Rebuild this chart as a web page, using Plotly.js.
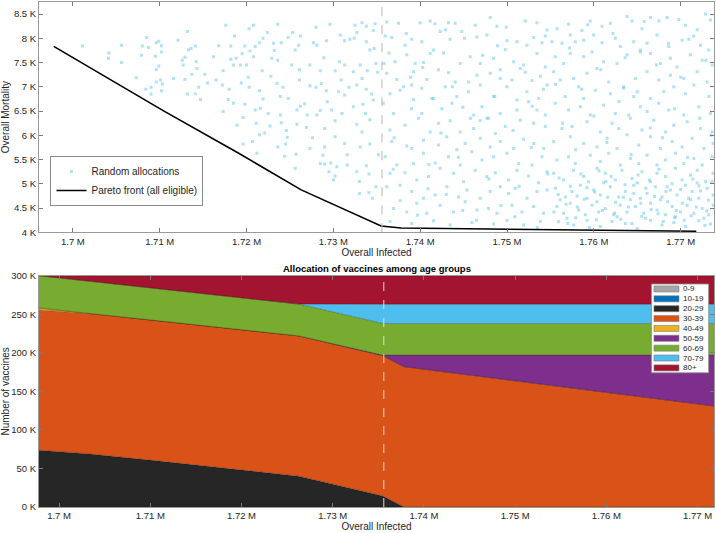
<!DOCTYPE html>
<html>
<head>
<meta charset="utf-8">
<script src="https://cdn.plot.ly/plotly-3.0.1.min.js"></script>
<style>html,body{margin:0;padding:0;background:#fff;}#chart{width:716px;height:533px;}</style>
</head>
<body>
<div id="chart"></div>
<script>
// ---------- DATA (infected in thousands, mortality in thousands, vaccines in thousands) ----------
const randInfK = [
1701.1,1704.15,1704.1,1705.6,1705.6,1707.3,1707.9,1708.0,1708.5,1708.7,1708.4,1709.0,1709.0,1709.5,1709.6,1709.6,1709.6,1709.9,1709.9,1710.1,1710.2,1710.2,1710.2,1710.3,1711.6,1712.1,1712.6,1712.7,1712.9,1712.9,1713.2,1713.2,1713.3,1713.6,1713.7,1714.1,1714.2,1714.3,1714.1,1714.5,1714.7,1715.2,1715.5,
1717.6,1720.3,1720.8,1723.6,1728.0,1729.6,1732.5,1733.3,1733.8,1734.6,1722.4,1721.5,1718.2,1719.8,1720.4,1721.0,1721.9,1723.1,1724.0,1724.8,1726.2,1726.0,1725.6,1727.7,1728.1,1729.2,1730.8,1731.3,1731.9,1732.7,1733.8,1734.2,1734.7,
1716.2,1717.3,1718.2,1718.5,1718.8,1719.5,1720.0,1720.8,1721.8,1722.9,1723.6,1725.2,1726.1,1727.3,1728.5,1730.2,1730.7,1731.3,1732.3,1733.1,1733.9,1734.9,
1716.5,1717.2,1718.0,1719.4,1720.3,1721.5,1722.8,1723.5,1724.2,1726.1,1727.3,1728.0,1728.6,1729.2,1730.9,1731.8,1732.7,1733.3,1733.8,1734.4,
1717.9,1718.5,1719.8,1721.0,1721.6,1723.9,1724.8,1723.9,1725.8,1726.2,1727.0,1728.5,1729.3,1729.8,1731.3,1732.3,1733.4,1734.6,
1717.3,1718.9,1719.6,1721.1,1722.7,1724.0,1725.8,1726.9,1728.1,1729.0,1730.2,1731.0,1732.7,1733.3,1734.2,
1721.5,1722.1,1719.6,1720.7,1723.6,1724.7,1724.5,1727.3,1729.0,1730.2,1731.3,1733.1,1734.2,
1721.2,1724.4,1725.7,1728.8,1729.7,1730.4,1729.0,1730.2,1730.0,1731.6,1732.7,1733.8,1734.1,1733.0,1734.1,1734.9,1725.6,1728.5,
1716.8,1718.6,1720.2,1721.9,1723.2,1724.6,1725.3,1726.7,1727.6,1728.9,1729.5,1730.6,1731.6,1732.4,1733.0,1733.7,1734.5,1735.1,1735.2,1734.8,1722.5,1719.3,
1736.15,1737.50,1739.99,1741.15,1743.26,1744.03,1746.34,1748.07,1748.84,1749.91,1752.11,1753.45,1754.61,
1735.96,1736.73,1738.26,1739.03,1740.19,1741.53,1742.30,1743.45,1744.80,1746.53,1747.68,1749.80,1751.14,1752.30,1753.07,1754.03,
1735.84,1737.11,1738.46,1739.42,1740.38,1741.15,1742.69,1744.61,1745.76,1746.92,1748.45,1749.22,1750.76,1751.91,1753.45,1754.41,
1736.15,1737.30,1738.07,1739.23,1740.76,1742.11,1743.26,1744.03,1745.57,1746.53,1748.07,1749.22,1750.57,1751.53,1752.87,1753.84,
1736.53,1737.69,1739.03,1740.19,1741.34,1742.88,1744.22,1745.57,1746.92,1748.45,1749.99,1751.14,1752.30,1753.64,1754.61,
1735.76,1736.92,1739.23,1740.19,1741.53,1742.49,1743.65,1744.92,1746.15,1747.11,1747.88,1749.22,1751.14,1752.49,1753.45,1754.41,
1736.53,1738.26,1739.80,1741.15,1742.11,1743.45,1744.61,1746.15,1747.68,1748.65,1749.80,1751.53,1753.07,1754.41,
1736.73,1738.46,1739.03,1740.38,1742.11,1743.07,1744.22,1745.18,1746.92,1748.07,1749.22,1750.76,1751.91,1753.07,1754.22,
1735.96,1737.30,1739.23,1740.38,1741.72,1743.26,1744.61,1745.95,1747.11,1748.45,1749.99,1751.34,1752.87,1754.03,
1736.53,1738.26,1739.61,1740.96,1742.30,1743.84,1744.99,1746.34,1747.68,1748.65,1750.18,1751.14,1752.49,1753.64,1754.61,
1736.15,1737.69,1739.03,1740.38,1741.72,1743.07,1744.42,1745.38,1746.92,1748.07,1749.22,1750.18,1750.95,1752.30,1753.45,1754.61,
1736.92,1738.46,1739.61,1740.76,1742.30,1743.84,1745.18,1746.53,1747.88,1748.84,1750.57,1751.72,1753.07,1754.22,
1736.53,1739.03,1741.53,1743.45,1745.95,1748.45,1749.99,1751.91,1753.84,
1736.4,1737.0,1737.7,1738.4,1739.0,1739.7,1740.3,1741.0,1741.7,1742.4,1743.0,1743.7,1744.4,1745.1,1745.8,1746.5,1747.2,1747.9,1748.6,1749.3,1750.0,1750.7,1751.4,1752.1,1752.8,1753.5,1754.2,1754.7,1736.9,1738.9,1740.9,1742.9,1744.9,1746.9,1748.9,1750.9,1752.9,1754.4,
1755.75,1757.09,1758.63,1759.59,1760.94,1761.90,1763.82,1764.40,1765.55,1766.52,1767.48,1768.44,1769.78,1770.55,1771.90,1772.86,1773.44,
1755.17,1756.33,1757.29,1757.86,1758.83,1759.98,1760.94,1762.48,1763.05,1764.59,1765.36,1766.13,1767.28,1768.63,1770.17,1770.94,1772.28,1773.24,
1755.56,1756.52,1757.29,1758.83,1759.79,1761.13,1762.67,1763.82,1765.36,1766.52,1767.67,1768.82,1769.59,1771.13,1772.48,1773.63,
1755.36,1756.13,1757.67,1759.21,1760.36,1761.71,1763.44,1764.78,1766.13,1767.48,1768.82,1770.36,1771.90,1773.05,
1756.71,1758.25,1758.83,1760.17,1761.90,1763.44,1764.59,1766.52,1768.05,1769.21,1770.55,1771.52,1773.24,
1755.56,1757.09,1758.44,1759.59,1761.13,1762.48,1764.02,1765.36,1766.13,1767.48,1768.63,1770.36,1772.09,1773.44,
1756.33,1757.48,1759.21,1760.75,1762.09,1762.86,1764.21,1765.55,1766.90,1768.25,1769.21,1770.75,1772.28,1773.63,
1755.36,1757.29,1758.83,1760.36,1761.52,1762.67,1763.82,1765.17,1766.52,1767.67,1769.02,1770.17,1771.32,1772.67,1773.74,
1755.75,1757.09,1757.86,1759.59,1760.75,1761.71,1763.05,1764.21,1765.17,1766.13,1767.28,1768.25,1769.40,1770.36,1771.52,1772.48,1773.63,
1755.36,1756.52,1757.67,1758.83,1759.40,1760.36,1761.32,1762.48,1763.25,1764.40,1765.55,1766.52,1767.28,1768.25,1769.40,1770.17,1771.13,1771.90,1772.86,1773.74,
1755.56,1756.71,1757.48,1758.44,1759.21,1759.98,1760.75,1761.90,1762.86,1763.63,1764.59,1765.36,1766.13,1767.09,1767.86,1768.82,1769.59,1770.55,1771.32,1772.09,1773.05,1773.74,
1755.75,1756.52,1757.29,1758.25,1759.02,1759.79,1760.56,1761.32,1762.29,1763.05,1763.82,1764.78,1765.75,1766.52,1767.28,1768.25,1769.02,1769.98,1770.75,1771.52,1772.48,1773.24,1773.74,
1755.94,1757.67,1759.21,1760.75,1762.09,1763.63,1764.98,1766.52,1767.86,1769.21,1770.55,1772.09,1773.44,
1756.13,1758.06,1760.36,1762.67,1764.21,1765.94,1767.67,1769.40,1771.13,1772.67,1756.90,1761.13,1764.98,1768.44,1771.90,
1755.4,1756.0,1756.8,1757.3,1757.9,1758.5,1758.9,1759.5,1760.1,1760.6,1761.0,1761.6,1762.0,1762.5,1763.1,1763.6,1764.0,1764.6,1765.1,1765.5,1766.0,1766.6,1767.0,1767.5,1768.0,1768.5,1769.0,1769.5,1770.0,1770.4,1770.9,1771.4,1771.8,1772.3,1772.8,1773.2,1773.6,1755.9,1757.0,1758.1,1759.2,1760.3,1761.4,1762.4,1763.4,1764.4,1765.4,1766.4,1767.4,1768.3,1769.3,1770.2,1771.2,1772.1,1773.0,
1755.6,1756.4,1757.2,1757.9,1758.6,1759.3,1760.0,1760.8,1761.5,1762.2,1762.9,1763.6,1764.3,1765.0,1765.8,1766.5,1767.2,1767.9,1768.6,1769.3,1770.0,1770.8,1771.5,1772.2,1772.9,1773.5
];
const randMortK = [
7.84,7.70,7.59,7.86,7.50,7.19,7.65,7.84,8.02,7.81,6.95,6.85,6.99,7.63,7.91,7.36,7.10,7.94,7.43,7.14,7.85,7.72,6.92,7.06,7.17,7.96,7.55,7.45,7.15,7.61,8.14,6.85,7.76,7.79,7.26,7.84,7.52,7.38,6.86,6.99,6.74,7.26,7.08,
8.27,8.20,8.27,8.29,8.23,8.29,8.27,8.32,8.25,8.16,8.12,7.91,7.84,7.84,7.74,7.83,8.00,7.90,7.91,8.02,8.05,7.86,7.76,7.91,7.86,7.95,8.07,7.95,7.98,8.12,7.93,7.76,7.79,
7.62,7.33,7.57,7.45,7.59,7.68,7.45,7.62,7.33,7.59,7.55,7.45,7.35,7.45,7.33,7.33,7.52,7.45,7.31,7.45,7.33,7.48,
7.14,7.04,6.95,7.08,6.99,6.92,7.22,7.07,6.99,7.14,7.02,6.99,7.07,6.92,7.14,6.99,7.04,7.17,6.95,6.85,
6.74,6.66,6.64,6.52,6.56,6.80,6.76,6.42,6.52,6.60,6.42,6.51,6.69,6.52,6.83,6.59,6.64,6.73,
6.49,6.21,6.37,6.25,6.19,6.26,6.23,6.16,6.42,6.14,6.30,6.45,6.23,6.07,6.32,
6.01,6.05,5.82,5.87,5.76,5.96,5.82,5.73,5.76,5.97,5.83,5.76,5.82,
5.63,5.57,5.61,5.59,5.43,5.35,5.41,5.16,5.08,5.39,5.25,5.37,5.20,4.80,4.82,4.94,5.32,5.42,
7.85,8.05,7.20,6.75,7.75,6.10,8.12,6.65,5.95,7.60,5.25,6.90,5.60,8.00,5.05,6.45,4.70,7.30,5.60,8.30,6.45,7.45,
8.34,8.31,8.32,8.36,8.32,8.31,8.27,8.43,8.25,8.23,8.36,8.32,8.17,
8.05,8.02,7.86,7.98,7.93,7.76,8.14,7.98,8.14,8.03,8.07,7.77,7.93,7.86,8.02,7.91,
7.48,7.52,7.66,7.48,7.50,7.69,7.70,7.48,7.62,7.48,7.59,7.35,7.52,7.45,7.69,7.41,
7.28,7.15,7.00,7.31,7.15,7.35,7.29,7.10,7.10,7.24,7.28,7.17,7.14,7.38,7.13,7.22,
6.86,6.93,7.04,6.97,6.76,7.00,6.80,6.90,7.04,6.80,7.00,6.73,6.90,6.76,7.04,
6.66,6.45,6.74,6.45,6.76,6.55,6.66,6.58,6.42,6.59,6.35,6.45,6.52,6.69,6.52,6.42,
6.11,6.21,6.35,6.07,6.25,6.30,6.07,6.14,6.35,6.04,6.18,6.31,6.25,6.18,
5.87,5.78,5.73,5.90,5.80,5.97,5.70,5.83,5.94,5.76,5.87,5.73,5.92,5.83,5.73,
5.56,5.39,5.42,5.63,5.43,5.56,5.39,5.66,5.49,5.56,5.63,5.42,5.39,5.56,
5.22,5.23,5.08,5.15,5.32,5.22,5.04,5.28,5.15,5.23,5.08,5.28,5.16,5.02,5.25,
4.94,4.97,4.84,4.70,4.77,4.94,4.73,4.87,4.70,4.84,4.94,4.80,4.91,4.70,4.84,4.87,
4.49,4.42,4.60,4.39,4.56,4.42,4.63,4.46,4.49,4.39,4.56,4.42,4.53,4.39,
4.22,4.18,4.24,4.15,4.20,4.17,4.25,4.15,4.22,
7.70,5.95,4.65,8.10,6.55,4.35,7.40,5.40,8.30,6.05,4.78,7.00,5.55,8.00,6.35,4.25,7.65,5.10,6.80,4.55,7.95,6.10,4.95,7.30,5.75,4.10,6.95,5.20,5.30,7.20,4.90,8.18,4.45,6.30,7.85,4.32,6.60,8.05,
8.20,8.29,8.16,8.36,8.25,8.31,8.45,8.36,8.20,8.43,8.36,8.43,8.39,8.27,8.18,8.50,8.38,
7.93,7.90,8.07,7.93,7.96,8.07,7.91,8.00,7.83,7.93,7.76,7.90,8.07,7.83,7.96,7.98,7.86,7.76,
7.62,7.48,7.69,7.62,7.72,7.52,7.48,7.66,7.72,7.69,7.48,7.59,7.41,7.66,7.55,7.45,
7.31,7.14,7.17,7.28,7.38,7.10,7.00,7.17,7.31,7.14,7.24,7.17,7.31,7.10,
6.80,7.00,6.76,6.93,6.86,6.97,6.80,6.76,6.90,7.00,6.86,7.04,6.80,
6.66,6.52,6.59,6.42,6.62,6.45,6.42,6.59,6.49,6.66,6.52,6.42,6.59,6.45,
6.14,6.18,6.28,6.07,6.25,6.14,6.35,6.11,6.31,6.07,6.21,6.28,6.14,6.07,
5.87,5.97,5.83,5.76,5.94,5.73,6.01,5.80,5.97,5.73,5.87,5.76,5.94,5.73,5.83,
5.49,5.56,5.42,5.59,5.46,5.63,5.39,5.52,5.42,5.59,5.39,5.49,5.63,5.42,5.52,5.39,5.56,
5.22,5.08,5.28,5.15,5.04,5.32,5.22,5.08,5.28,5.11,5.25,5.04,5.22,5.15,5.32,5.08,5.18,5.28,5.04,5.22,
4.91,4.73,4.84,4.97,4.70,4.87,4.77,4.94,4.73,4.84,4.97,4.70,4.80,4.94,4.73,4.87,4.77,4.97,4.84,4.70,4.91,4.77,
4.53,4.39,4.60,4.46,4.36,4.56,4.42,4.49,4.36,4.56,4.42,4.53,4.39,4.60,4.46,4.36,4.53,4.42,4.56,4.39,4.49,4.36,4.56,
4.22,4.15,4.25,4.12,4.22,4.18,4.08,4.25,4.15,4.20,4.12,4.24,4.17,
4.67,4.75,4.63,4.32,4.67,4.29,4.67,4.32,4.67,4.29,4.29,5.02,5.02,4.94,5.02,
4.42,5.12,4.58,4.95,4.30,5.20,4.68,4.10,4.83,5.27,4.45,4.72,5.15,4.62,4.27,4.98,4.52,4.80,5.18,4.33,4.91,4.47,4.74,5.30,4.22,4.63,5.00,4.45,4.88,4.25,4.70,5.10,4.52,4.85,4.14,4.66,5.05,4.78,4.18,4.52,4.92,4.26,5.05,4.40,4.72,4.18,4.60,5.08,4.38,4.84,4.30,4.60,4.34,4.96,4.44,
7.05,6.25,7.80,5.70,6.95,8.28,6.40,7.35,5.85,8.10,6.70,7.60,5.60,6.90,8.35,6.15,7.45,5.95,7.90,6.55,7.20,5.55,8.05,6.35,7.55,6.00
];

// Pareto front (allocation points along the front)
const paretoInfK  = [1697.8, 1703.4, 1710.5, 1719.0, 1726.3, 1735.5, 1737.8, 1771.8];
const paretoMortK = [7.834, 7.250, 6.500, 5.640, 4.875, 4.129, 4.088, 4.020];
const selectedInfK = 1735.6;

// Vaccines (thousands) per age group at each Pareto point
const ageGroups = ['0-9','10-19','20-29','30-39','40-49','50-59','60-69','70-79','80+'];
const vac0_9   = [0, 0, 0, 0, 0, 0, 0, 0];
const vac10_19 = [0, 0, 0, 0, 0, 0, 0, 0];
const vac20_29 = [73.6, 68.8, 60.2, 49.4, 39.9, 14.3, 0, 0];
const vac30_39 = [182, 182, 182, 182, 182, 182, 182, 131];
const vac40_49 = [2.5, 0, 0, 0, 0, 0, 0, 0];
const vac50_59 = [0, 0, 0, 0, 0, 0.7, 15, 66];
const vac60_69 = [41.9, 42, 41.4, 41.2, 41.3, 41, 41, 41];
const vac70_79 = [0, 0, 0, 0, 0, 25, 25, 25];
const vac80p   = [0, 7.2, 16.4, 27.4, 36.8, 37, 37, 37];

// Tick labels
const infTickValsK = [1700, 1710, 1720, 1730, 1740, 1750, 1760, 1770];
const infTickText  = ['1.7 M','1.71 M','1.72 M','1.73 M','1.74 M','1.75 M','1.76 M','1.77 M'];
const mortTickValsK = [4, 4.5, 5, 5.5, 6, 6.5, 7, 7.5, 8, 8.5];
const mortTickText  = ['4 K','4.5 K','5 K','5.5 K','6 K','6.5 K','7 K','7.5 K','8 K','8.5 K'];
const vacTickValsK = [0, 50, 100, 150, 200, 250, 300];
const vacTickText  = ['0 K','50 K','100 K','150 K','200 K','250 K','300 K'];

// ---------- STYLE ----------
const ageColors = ['#a6a6a6','#0072bd','#262626','#d95319','#edb120','#7e2f8e','#77ac30','#4dbeee','#a2142f'];
const FONT = 'Liberation Sans, Arial, Helvetica, sans-serif';
const TXT = '#262626';
const K = v => v * 1000;

const vacSeries = [vac0_9, vac10_19, vac20_29, vac30_39, vac40_49, vac50_59, vac60_69, vac70_79, vac80p];

const traces = [];
traces.push({
  type: 'scatter', mode: 'markers', name: 'Random allocations',
  x: randInfK.map(K), y: randMortK.map(K), xaxis: 'x', yaxis: 'y',
  marker: {symbol: 'square', size: 3, color: '#4dbeee', opacity: 0.45},
  hoverinfo: 'skip'
});
traces.push({
  type: 'scatter', mode: 'lines', name: 'Pareto front (all eligible)',
  x: paretoInfK.map(K), y: paretoMortK.map(K), xaxis: 'x', yaxis: 'y',
  line: {color: '#000000', width: 1.6}
});
vacSeries.forEach((s, i) => {
  traces.push({
    type: 'scatter', mode: 'lines', name: ageGroups[i], stackgroup: 'vac',
    x: paretoInfK.map(K), y: s.map(K), xaxis: 'x2', yaxis: 'y2',
    line: {color: 'rgba(0,0,0,0.55)', width: 0.5},
    fillcolor: ageColors[i], showlegend: false
  });
});

function axisBase() {
  return {
    ticks: 'inside', ticklen: 4, tickcolor: '#7a7a7a', tickwidth: 1,
    showline: true, linecolor: '#9a9a9a', linewidth: 1, mirror: 'ticks',
    showgrid: false, zeroline: false,
    tickfont: {family: FONT, size: 9.5, color: TXT},
    layer: 'above traces'
  };
}

const xaxis = Object.assign(axisBase(), {
  domain: [0, 1], anchor: 'y', range: [1696100, 1773840],
  tickmode: 'array', tickvals: infTickValsK.map(K), ticktext: infTickText,
  title: {text: 'Overall Infected', font: {family: FONT, size: 10, color: TXT}, standoff: 2}
});
const yaxis = Object.assign(axisBase(), {
  domain: [0.544, 1], anchor: 'x', range: [4000, 8750],
  tickmode: 'array', tickvals: mortTickValsK.map(K), ticktext: mortTickText,
  title: {text: 'Overall Mortality', font: {family: FONT, size: 10, color: TXT}, standoff: 4}
});
const xaxis2 = Object.assign(axisBase(), {
  domain: [0, 1], anchor: 'y2', range: [1697800, 1771800],
  tickmode: 'array', tickvals: infTickValsK.map(K), ticktext: infTickText,
  title: {text: 'Overall Infected', font: {family: FONT, size: 10, color: TXT}, standoff: 2}
});
const yaxis2 = Object.assign(axisBase(), {
  domain: [0, 0.458], anchor: 'x2', range: [0, 300000],
  tickmode: 'array', tickvals: vacTickValsK.map(K), ticktext: vacTickText,
  title: {text: 'Number of vaccines', font: {family: FONT, size: 10, color: TXT}, standoff: 4}
});

const shapes = [
  {type: 'line', xref: 'x', yref: 'y domain', x0: K(selectedInfK), x1: K(selectedInfK), y0: 0, y1: 1,
   line: {color: '#b5b5b5', width: 1, dash: 'dash'}},
  {type: 'line', xref: 'x2', yref: 'y2 domain', x0: K(selectedInfK), x1: K(selectedInfK), y0: 0, y1: 1,
   line: {color: '#dedede', width: 1, dash: 'dash'}}
];
const annotations = [
  {xref: 'paper', yref: 'paper', x: 0.5, y: 0.458, xanchor: 'center', yanchor: 'bottom',
   text: '<b>Allocation of vaccines among age groups</b>', showarrow: false,
   font: {family: FONT, size: 9.5, color: '#000'}}
];

// Compact legend for the age groups (inside bottom axes, upper right)
const legX0 = 0.9073, legX1 = 0.9921, legTop = 0.9641, legBot = 0.5801;
shapes.push({type: 'rect', xref: 'x2 domain', yref: 'y2 domain', x0: legX0, x1: legX1, y0: legBot, y1: legTop,
  fillcolor: '#ffffff', line: {color: '#8c8c8c', width: 0.8}});
const rowStep = (legTop - legBot) / ageGroups.length;
ageGroups.forEach((g, i) => {
  const yc = legTop - rowStep * (i + 0.5);
  shapes.push({type: 'rect', xref: 'x2 domain', yref: 'y2 domain', x0: 0.9111, x1: 0.9481,
    y0: yc - 0.013, y1: yc + 0.013, fillcolor: ageColors[i], line: {color: '#7a7a7a', width: 0.6}});
  annotations.push({xref: 'x2 domain', yref: 'y2 domain', x: 0.9525, y: yc, xanchor: 'left', yanchor: 'middle',
    text: g, showarrow: false, font: {family: FONT, size: 8, color: TXT}, borderpad: 0});
});

const layout = {
  width: 716, height: 533,
  margin: {l: 39, r: 2, t: 2, b: 26},
  paper_bgcolor: '#ffffff', plot_bgcolor: '#ffffff',
  font: {family: FONT, color: TXT},
  showlegend: true,
  legend: {x: 0.017, y: 0.695, xanchor: 'left', yanchor: 'top', xref: 'paper', yref: 'paper',
    traceorder: 'normal',
    bgcolor: '#ffffff', bordercolor: '#8c8c8c', borderwidth: 1, tracegroupgap: 0, itemwidth: 30,
    font: {family: FONT, size: 10, color: TXT}},
  xaxis, yaxis, xaxis2, yaxis2, shapes, annotations
};

Plotly.newPlot('chart', traces, layout, {displayModeBar: false, staticPlot: true});
</script>
</body>
</html>
